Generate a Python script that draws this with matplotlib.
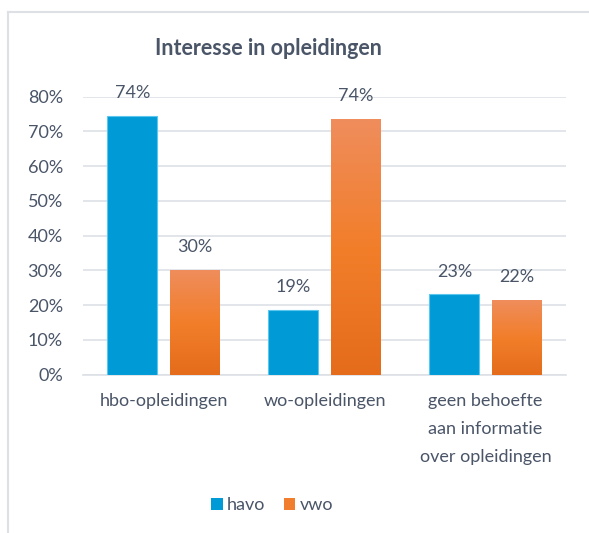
import numpy as np
import matplotlib.pyplot as plt
from matplotlib.colors import LinearSegmentedColormap
from matplotlib.patches import Patch
from matplotlib.lines import Line2D

categories = ["hbo-opleidingen", "wo-opleidingen",
              "geen behoefte\naan informatie\nover opleidingen"]
havo = [74.4, 18.6, 23.1]
vwo = [30.1, 73.6, 21.5]
havo_labels = ["74%", "19%", "23%"]
vwo_labels = ["30%", "74%", "22%"]
yticks = [0, 10, 20, 30, 40, 50, 60, 70, 80]

plt.rcParams["font.family"] = ["Lato", "DejaVu Sans"]
text_col = "#4A5568"
blue = "#009BD6"
orange_grad = LinearSegmentedColormap.from_list(
    "org", ["#E46C1B", "#F27E2A", "#EF8D5C"])

fig = plt.figure(figsize=(5.89, 5.33), dpi=100)
ax = fig.add_axes([0.1409, 0.297, 0.8200, 0.5216])

x = np.arange(len(categories))
w = 0.31
off = 0.193

b1 = ax.bar(x - off, havo, w, color=blue, edgecolor="#5CC6EE",
            linewidth=0.8, zorder=3)
b2 = ax.bar(x + off, vwo, w, color="none", edgecolor="none", zorder=3)

# gradient fill for vwo bars
grad = np.linspace(0, 1, 256).reshape(-1, 1)
for bar in b2:
    x0, y0 = bar.get_x(), bar.get_y()
    ax.imshow(grad, cmap=orange_grad, origin="lower", aspect="auto",
              extent=[x0, x0 + bar.get_width(), y0, y0 + bar.get_height()],
              zorder=3)

for bars, labels in [(b1, havo_labels), (b2, vwo_labels)]:
    for bar, lab in zip(bars, labels):
        ax.annotate(lab, (bar.get_x() + bar.get_width() / 2, bar.get_height()),
                    xytext=(0, 16.5), textcoords="offset points",
                    ha="center", va="center", fontsize=13, color=text_col)

ax.set_xlim(-0.5, 2.5)
ax.set_ylim(0, 80)
ax.set_yticks(yticks)
ax.set_yticklabels([f"{t}%" for t in yticks])
ax.set_xticks(x)
ax.set_xticklabels(categories, linespacing=1.95)
ax.tick_params(axis="both", length=0, labelsize=13, labelcolor=text_col)
ax.tick_params(axis="y", pad=14.5)
ax.tick_params(axis="x", pad=13)

ax.grid(True, axis="y", color="#DDE1E6", linewidth=1.2, zorder=0)
for s in ["top", "right", "left"]:
    ax.spines[s].set_visible(False)
ax.spines["bottom"].set_color("#DDE1E6")
ax.spines["bottom"].set_linewidth(1.2)

fig.text(0.455, 0.909, "Interesse in opleidingen", ha="center", va="center",
         fontsize=15.5, fontweight="bold", color=text_col)

handles = [Patch(facecolor=blue, edgecolor="none"),
           Patch(facecolor="#F07E2C", edgecolor="none")]
fig.legend(handles, ["havo", "vwo"], loc="center", bbox_to_anchor=(0.462, 0.052),
           ncol=2, frameon=False, fontsize=13, labelcolor=text_col,
           handlelength=0.65, handleheight=0.65, handletextpad=0.25,
           columnspacing=1.0)

# chart border
fig.add_artist(Line2D([8 / 589, 8 / 589], [0, 1 - 12 / 533],
                      transform=fig.transFigure, color="#DDE1E6", linewidth=1.5))
fig.add_artist(Line2D([8 / 589, 1], [1 - 12 / 533, 1 - 12 / 533],
                      transform=fig.transFigure, color="#DDE1E6", linewidth=1.5))

fig.savefig("out.png", dpi=100)
